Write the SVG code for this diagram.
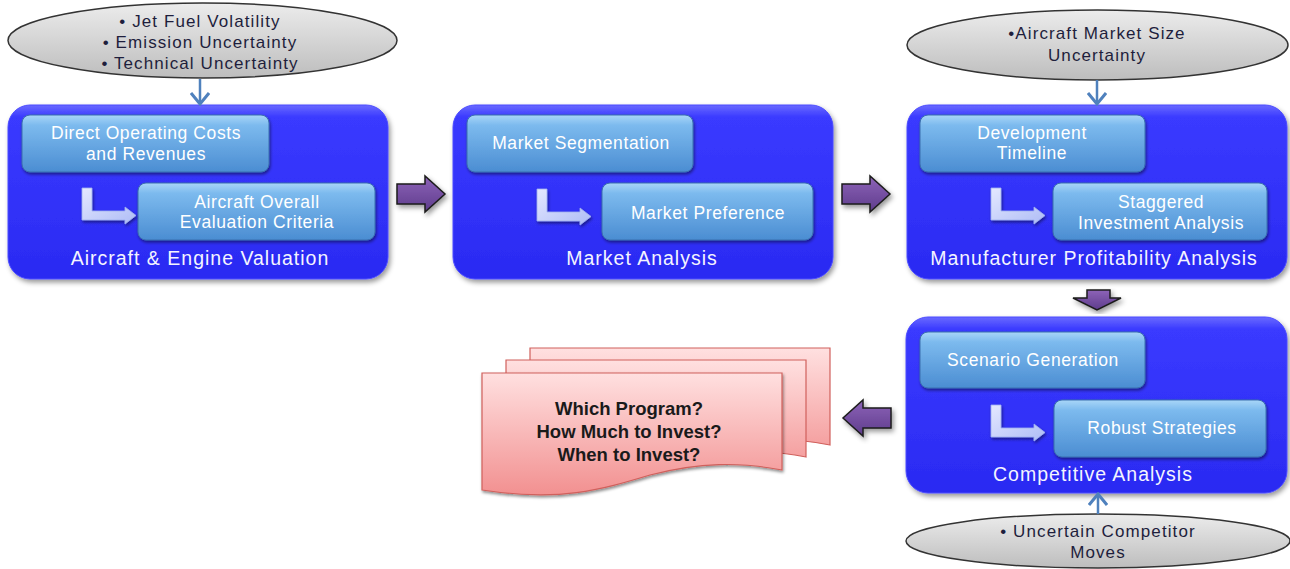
<svg xmlns="http://www.w3.org/2000/svg" width="1290" height="569" viewBox="0 0 1290 569">
<style>
  .big { fill: url(#gBig); stroke: #4a4aff; stroke-width: 1; filter: url(#sh); }
  .inner { fill: url(#gInner); stroke: #3b6fae; stroke-width: 1; filter: url(#sh2); }
  .ell { fill: url(#gEll); stroke: #333; stroke-width: 1.5; }
  .lbl { font-family: "Liberation Sans", Arial, sans-serif; font-size: 19.5px; letter-spacing: 1px; fill: #f4f4ff; text-anchor: middle; }
  .itx { font-family: "Liberation Sans", Arial, sans-serif; font-size: 17.5px; letter-spacing: 0.6px; fill: #ffffff; text-anchor: middle; }
  .etx { font-family: "Liberation Sans", Arial, sans-serif; font-size: 17px; letter-spacing: 1.1px; fill: #1e1e3c; text-anchor: middle; }
  .dtx { font-family: "Liberation Sans", Arial, sans-serif; font-size: 18.5px; font-weight: bold; fill: #1a1a1a; text-anchor: middle; }
  .thin { stroke: #4f81bd; stroke-width: 2.5; fill: none; marker-end: url(#chev); }
  .block { fill: url(#gPur); stroke: #1c1c1c; stroke-width: 1.5; filter: url(#sh); }
  .ell-arrow { fill: url(#gL); stroke: #9fb0ee; stroke-width: 0.8; filter: url(#sh2); }
  .doc { fill: url(#gDoc); stroke: #d0605c; stroke-width: 1.2; }
</style>
<defs>
  <linearGradient id="gBig" x1="0" y1="0" x2="0" y2="1">
    <stop offset="0" stop-color="#6a6aff"/>
    <stop offset="0.07" stop-color="#3a3aff"/>
    <stop offset="1" stop-color="#2a2af2"/>
  </linearGradient>
  <linearGradient id="gInner" x1="0" y1="0" x2="0" y2="1">
    <stop offset="0" stop-color="#a9d6f8"/>
    <stop offset="0.18" stop-color="#7cbaee"/>
    <stop offset="1" stop-color="#4b8dd2"/>
  </linearGradient>
  <linearGradient id="gEll" x1="0" y1="0" x2="0" y2="1">
    <stop offset="0" stop-color="#ececec"/>
    <stop offset="1" stop-color="#bdbdbd"/>
  </linearGradient>
  <linearGradient id="gPur" x1="0" y1="0" x2="0" y2="1">
    <stop offset="0" stop-color="#8d63b8"/>
    <stop offset="1" stop-color="#5e3c8c"/>
  </linearGradient>
  <linearGradient id="gL" x1="0" y1="0" x2="1" y2="1">
    <stop offset="0" stop-color="#e4e8ff"/>
    <stop offset="1" stop-color="#aebcf6"/>
  </linearGradient>
  <linearGradient id="gDoc" x1="0" y1="0" x2="0" y2="1">
    <stop offset="0" stop-color="#ffe0e0"/>
    <stop offset="1" stop-color="#f29090"/>
  </linearGradient>
  <filter id="sh" x="-10%" y="-10%" width="125%" height="130%">
    <feDropShadow dx="2" dy="3" stdDeviation="2.5" flood-color="#000" flood-opacity="0.4"/>
  </filter>
  <filter id="sh2" x="-10%" y="-10%" width="125%" height="135%">
    <feDropShadow dx="1" dy="2" stdDeviation="1.5" flood-color="#000" flood-opacity="0.45"/>
  </filter>
  <marker id="chev" viewBox="0 0 14 20" refX="12" refY="10" markerWidth="14" markerHeight="20" markerUnits="userSpaceOnUse" orient="auto">
    <path d="M1,1 L12,10 L1,19" fill="none" stroke="#4f81bd" stroke-width="3"/>
  </marker>
  <path id="L" d="M0,0 h10 v23 h33 v-4 l11,8.5 l-11,8.5 v-4 h-43 z"/>
  <path id="docShape" d="M0,0 H300 V97 C258,89 218,89 168,102 C118,117 78,129 0,117 Z"/>
</defs>

<!-- Uncertainty ellipses -->
<g id="unc-top-left">
  <ellipse class="ell" cx="202.5" cy="40.5" rx="194.5" ry="37.5"/>
  <text class="etx" x="200" y="27">• Jet Fuel Volatility</text>
  <text class="etx" x="200" y="48">• Emission Uncertainty</text>
  <text class="etx" x="200" y="69">• Technical Uncertainty</text>
</g>
<g id="unc-top-right">
  <ellipse class="ell" cx="1097.5" cy="45" rx="190.5" ry="35"/>
  <text class="etx" x="1097" y="39">•Aircraft Market Size</text>
  <text class="etx" x="1097" y="61">Uncertainty</text>
</g>
<g id="unc-bottom">
  <ellipse class="ell" cx="1098" cy="541" rx="192" ry="27"/>
  <text class="etx" x="1098" y="537">• Uncertain Competitor</text>
  <text class="etx" x="1098" y="558">Moves</text>
</g>

<!-- Aircraft & Engine Valuation -->
<g id="valuation">
  <rect class="big" x="8" y="105" width="380" height="174" rx="22"/>
  <rect class="inner" x="22" y="115" width="247" height="57" rx="8"/>
  <text class="itx" x="146" y="139">Direct Operating Costs</text>
  <text class="itx" x="146" y="160">and Revenues</text>
  <rect class="inner" x="138" y="183" width="237" height="57" rx="8"/>
  <text class="itx" x="257" y="208">Aircraft Overall</text>
  <text class="itx" x="257" y="228">Evaluation Criteria</text>
  <text class="lbl" x="200" y="265">Aircraft &amp; Engine Valuation</text>
</g>

<!-- Market Analysis -->
<g id="market">
  <rect class="big" x="453" y="105" width="380" height="174" rx="22"/>
  <rect class="inner" x="467" y="115" width="226" height="57" rx="8"/>
  <text class="itx" x="581" y="149">Market Segmentation</text>
  <rect class="inner" x="602" y="183" width="211" height="57" rx="8"/>
  <text class="itx" x="708" y="219">Market Preference</text>
  <text class="lbl" x="642" y="265">Market Analysis</text>
</g>

<!-- Manufacturer Profitability Analysis -->
<g id="profitability">
  <rect class="big" x="907" y="105" width="380" height="174" rx="22"/>
  <rect class="inner" x="920" y="115" width="225" height="57" rx="8"/>
  <text class="itx" x="1032" y="139">Development</text>
  <text class="itx" x="1032" y="159">Timeline</text>
  <rect class="inner" x="1053" y="183" width="214" height="57" rx="8"/>
  <text class="itx" x="1161" y="208">Staggered</text>
  <text class="itx" x="1161" y="229">Investment Analysis</text>
  <text class="lbl" x="1094" y="265">Manufacturer Profitability Analysis</text>
</g>

<!-- Competitive Analysis -->
<g id="competitive">
  <rect class="big" x="906" y="317" width="381" height="176" rx="22"/>
  <rect class="inner" x="920" y="332" width="225" height="56" rx="8"/>
  <text class="itx" x="1033" y="366">Scenario Generation</text>
  <rect class="inner" x="1054" y="400" width="212" height="57" rx="8"/>
  <text class="itx" x="1162" y="434">Robust Strategies</text>
  <text class="lbl" x="1093" y="481">Competitive Analysis</text>
</g>

<!-- Output documents -->
<g id="outputs">
  <use href="#docShape" class="doc" x="530" y="348"/>
  <use href="#docShape" class="doc" x="506" y="360"/>
  <use href="#docShape" class="doc" x="482" y="373" filter="url(#sh2)"/>
  <text class="dtx" x="629" y="415">Which Program?</text>
  <text class="dtx" x="629" y="438">How Much to Invest?</text>
  <text class="dtx" x="629" y="461">When to Invest?</text>
</g>

<!-- Connectors -->
<g id="connectors">
  <path class="thin" d="M200,79 L200,104"/>
  <path class="thin" d="M1097,80 L1097,104"/>
  <path class="thin" d="M1098,514 L1098,494"/>
  <path class="block" d="M397,184 h28 v-8 l20,18 l-20,18 v-8 h-28 z"/>
  <path class="block" d="M842,184 h28 v-8 l20,18 l-20,18 v-8 h-28 z"/>
  <path class="block" d="M1087,290 h23 v8 h11 l-24,12 l-24,-12 h14 z"/>
  <path class="block" d="M891,408 v20 h-28 v8 l-20,-18 l20,-18 v8 z"/>
  <use href="#L" class="ell-arrow" x="82" y="188"/>
  <use href="#L" class="ell-arrow" x="537" y="189"/>
  <use href="#L" class="ell-arrow" x="991" y="188"/>
  <use href="#L" class="ell-arrow" x="991" y="405"/>
</g>
</svg>
